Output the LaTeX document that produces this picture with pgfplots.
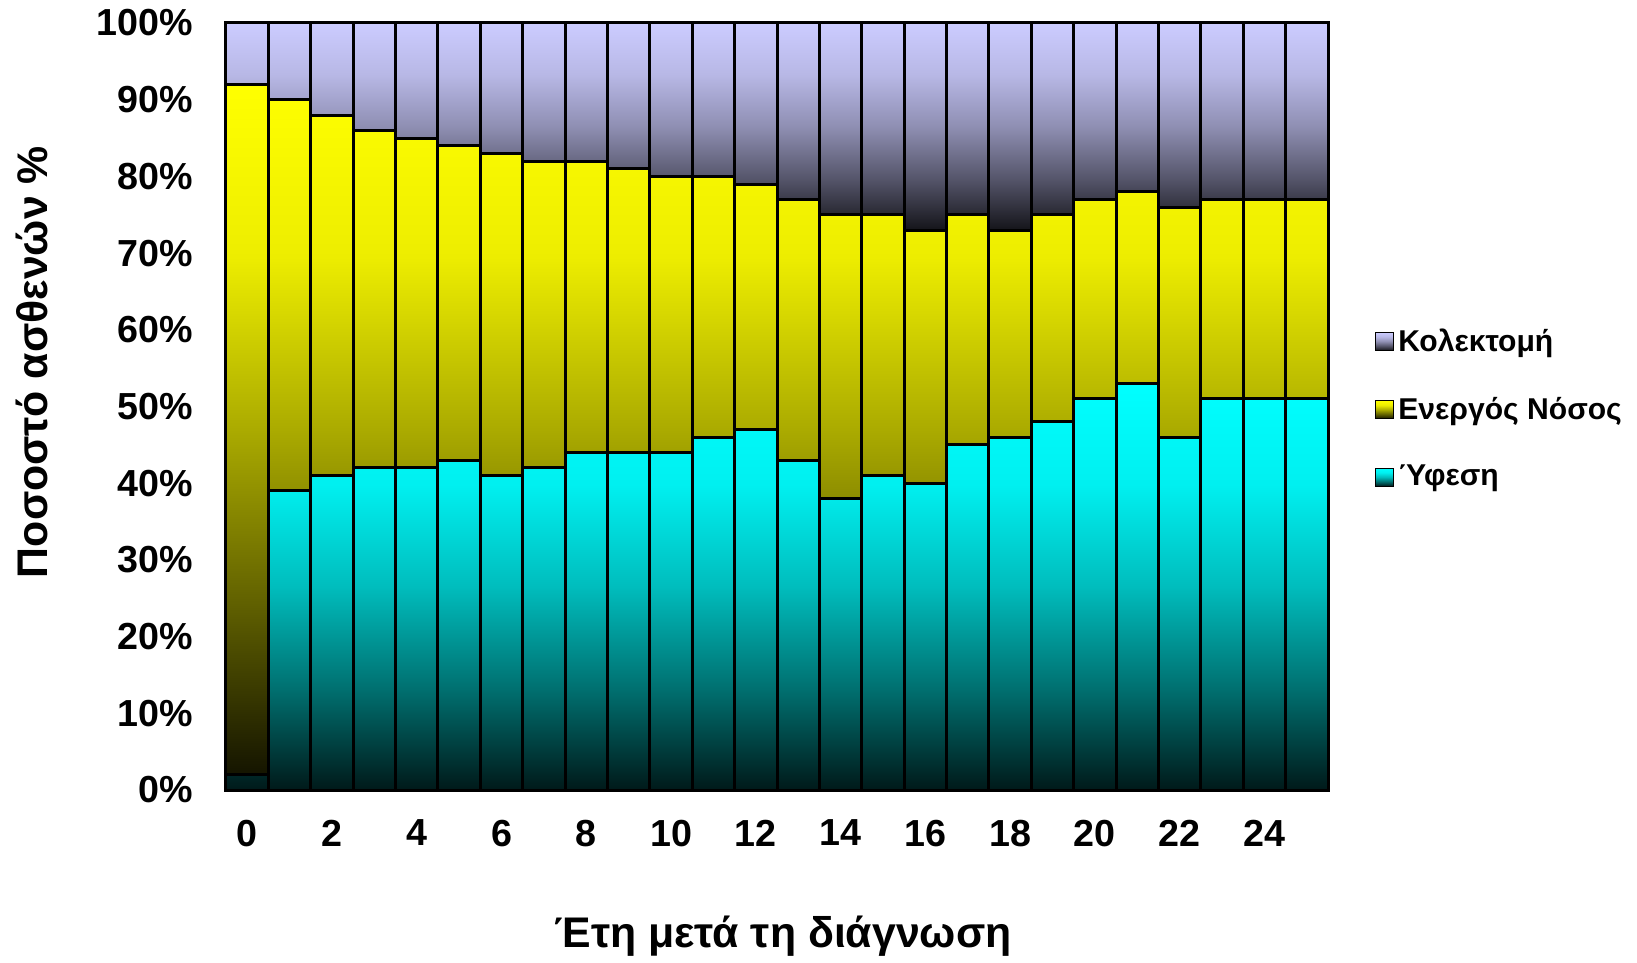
\documentclass[border=0pt]{standalone}
\usepackage{fontspec}
\setmainfont{Liberation Sans}
\usepackage{pgfplots}
\pgfplotsset{compat=1.18}
\definecolor{lav}{HTML}{CCCCFF}
\pgfdeclareverticalshading{cyshade}{100bp}{color(0bp)=(cyan!10!black); color(25bp)=(cyan!10!black);
  color(37.5bp)=(cyan!44!black); color(50bp)=(cyan!74!black); color(62.5bp)=(cyan!94!black);
  color(75bp)=(cyan); color(100bp)=(cyan)}
\pgfdeclareverticalshading{yeshade}{100bp}{color(0bp)=(yellow!8!black); color(25bp)=(yellow!8!black);
  color(37.5bp)=(yellow!38!black); color(50bp)=(yellow!67!black); color(62.5bp)=(yellow!93!black);
  color(75bp)=(yellow); color(100bp)=(yellow)}
\pgfdeclareverticalshading{lashade}{100bp}{color(0bp)=(lav!10!black); color(25bp)=(lav!10!black);
  color(37.5bp)=(lav!42!black); color(50bp)=(lav!70!black); color(62.5bp)=(lav!90!black);
  color(75bp)=(lav); color(100bp)=(lav)}
\begin{document}
\begin{tikzpicture}
\useasboundingbox (-113bp,-86.5bp) rectangle (705.5bp,395bp);
\begin{axis}[
  at={(0,0)}, anchor=south west,
  scale only axis, width=551bp, height=383.5bp,
  ybar stacked, bar width=1,
  xmin=-0.5, xmax=25.5, ymin=0, ymax=100,
  xtick={0,2,...,24}, ytick={0,10,...,100},
  yticklabel={\pgfmathprintnumber{\tick}\%},
  major tick length=0pt,
  /pgf/number format/assume math mode=true,
  tick label style={font=\fontsize{18.9}{22}\selectfont\bfseries},
  yticklabel style={xshift=-13bp},
  xticklabel style={yshift=-11.5bp},
  axis line style={draw=gray!50},
  clip=false,
  xlabel={Έτη μετά τη διάγνωση},
  ylabel={Ποσοστό ασθενών \%},
  label style={font=\fontsize{21.5}{26}\selectfont\bfseries},
  xlabel style={at={(axis description cs:0.5055,-0.19)}, anchor=center},
  ylabel style={at={(axis description cs:-0.176,0.558)}, anchor=center},
  legend style={at={(axis description cs:1.037,0.497)}, anchor=west, draw=none, fill=none,
    font=\fontsize{15.1}{18}\selectfont\bfseries, row sep=17.5bp, cells={anchor=west}},
  reverse legend,
  legend image code/.code={\draw[#1,draw=black,line width=0.6bp] (0bp,-4.5bp) rectangle (9bp,4.5bp);},
]
\addplot[draw=black, line width=1.5bp, shade, shading=cyshade] coordinates {
(0,2) (1,39) (2,41) (3,42) (4,42) (5,43) (6,41) (7,42) (8,44) (9,44) (10,44) (11,46) (12,47)
(13,43) (14,38) (15,41) (16,40) (17,45) (18,46) (19,48) (20,51) (21,53) (22,46) (23,51) (24,51) (25,51)};
\addlegendentry{Ύφεση}
\addplot[draw=black, line width=1.5bp, shade, shading=yeshade] coordinates {
(0,90) (1,51) (2,47) (3,44) (4,43) (5,41) (6,42) (7,40) (8,38) (9,37) (10,36) (11,34) (12,32)
(13,34) (14,37) (15,34) (16,33) (17,30) (18,27) (19,27) (20,26) (21,25) (22,30) (23,26) (24,26) (25,26)};
\addlegendentry{Ενεργός Νόσος}
\addplot[draw=black, line width=1.5bp, shade, shading=lashade] coordinates {
(0,8) (1,10) (2,12) (3,14) (4,15) (5,16) (6,17) (7,18) (8,18) (9,19) (10,20) (11,20) (12,21)
(13,23) (14,25) (15,25) (16,27) (17,25) (18,27) (19,25) (20,23) (21,22) (22,24) (23,23) (24,23) (25,23)};
\addlegendentry{Κολεκτομή}
\end{axis}
\end{tikzpicture}
\end{document}
